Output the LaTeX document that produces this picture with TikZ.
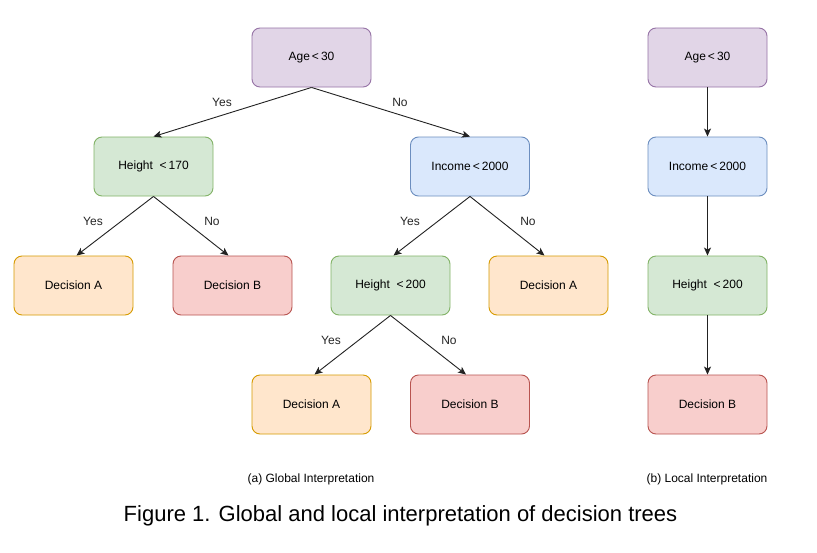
\documentclass[tikz,border=0pt]{standalone}
\usepackage{fontspec}
\setmainfont{Liberation Sans}
\usetikzlibrary{arrows.meta}
\definecolor{pfill}{HTML}{E1D5E7}\definecolor{pdraw}{HTML}{9673A6}
\definecolor{gfill}{HTML}{D5E8D4}\definecolor{gdraw}{HTML}{82B366}
\definecolor{bfill}{HTML}{DAE8FC}\definecolor{bdraw}{HTML}{6C8EBF}
\definecolor{ofill}{HTML}{FFE6CC}\definecolor{odraw}{HTML}{D79B00}
\definecolor{rfill}{HTML}{F8CECC}\definecolor{rdraw}{HTML}{B85450}
\definecolor{edgec}{HTML}{222222}
\tikzset{
  box/.style={rectangle, rounded corners=8pt, minimum width=119pt, minimum height=59pt,
    line width=0.9pt, font=\fontsize{12}{14}\selectfont, inner sep=0pt},
  purp/.style={box, fill=pfill, draw=pdraw},
  gree/.style={box, fill=gfill, draw=gdraw},
  blue/.style={box, fill=bfill, draw=bdraw},
  oran/.style={box, fill=ofill, draw=odraw},
  redd/.style={box, fill=rfill, draw=rdraw},
  conn/.style={draw=edgec, line width=0.9pt, -{Stealth[length=8pt,width=7pt,inset=2pt]}},
  lbl/.style={font=\fontsize{12}{14}\selectfont, text=black!85, inner sep=0pt},
  sub/.style={font=\fontsize{12}{14}\selectfont, inner sep=0pt},
}
\begin{document}
\begin{tikzpicture}[x=1pt,y=-1pt]
\useasboundingbox (0,0) rectangle (817,552);
\fill[white] (0,0) rectangle (817,552);
% global tree
\node[purp] (age) at (311.5,57.5) {Age\,<\,30};
\node[gree] (h170) at (153.5,166.5) {Height\ \ <\,170};
\node[blue] (inc) at (470,166.5) {Income\,<\,2000};
\node[oran] (da1) at (73.5,285.5) {Decision A};
\node[redd] (db1) at (232.5,285.5) {Decision B};
\node[gree] (h200) at (390.5,285.5) {Height\ \ <\,200};
\node[oran] (da2) at (548.5,285.5) {Decision A};
\node[oran] (da3) at (311.5,404.5) {Decision A};
\node[redd] (db2) at (470,404.5) {Decision B};
\draw[conn] (age.south) -- (h170.north);
\draw[conn] (age.south) -- (inc.north);
\draw[conn] (h170.south) -- ([xshift=3pt]da1.north);
\draw[conn] (h170.south) -- ([xshift=-4pt]db1.north);
\draw[conn] (inc.south) -- ([xshift=3pt]h200.north);
\draw[conn] (inc.south) -- ([xshift=-4pt]da2.north);
\draw[conn] (h200.south) -- ([xshift=3pt]da3.north);
\draw[conn] (h200.south) -- ([xshift=-4pt]db2.north);
\node[lbl] (y1) at (222,102) {Yes};
\node[lbl] (n1) at (400,102) {No};
\node[lbl] (y2) at (93,221) {Yes};
\node[lbl] (n2) at (212,221) {No};
\node[lbl] (y3) at (410,221) {Yes};
\node[lbl] (n3) at (528,221) {No};
\node[lbl] (y4) at (331,340) {Yes};
\node[lbl] (n4) at (449,340) {No};
% local path
\node[purp] (lage) at (707.5,57.5) {Age\,<\,30};
\node[blue] (linc) at (707.5,166.5) {Income\,<\,2000};
\node[gree] (lh200) at (707.5,285.5) {Height\ \ <\,200};
\node[redd] (ldb) at (707.5,404.5) {Decision B};
\draw[conn] (lage) -- (linc);
\draw[conn] (linc) -- (lh200);
\draw[conn] (lh200) -- (ldb);
% captions
\node[sub] (ca) at (311,479) {(a) Global Interpretation};
\node[sub] (cb) at (707,479) {(b) Local Interpretation};
\node[font=\fontsize{22}{26}\selectfont, inner sep=0pt] (cap) at (400.5,516) {Figure 1. Global and local interpretation of decision trees};
\end{tikzpicture}
\end{document}
